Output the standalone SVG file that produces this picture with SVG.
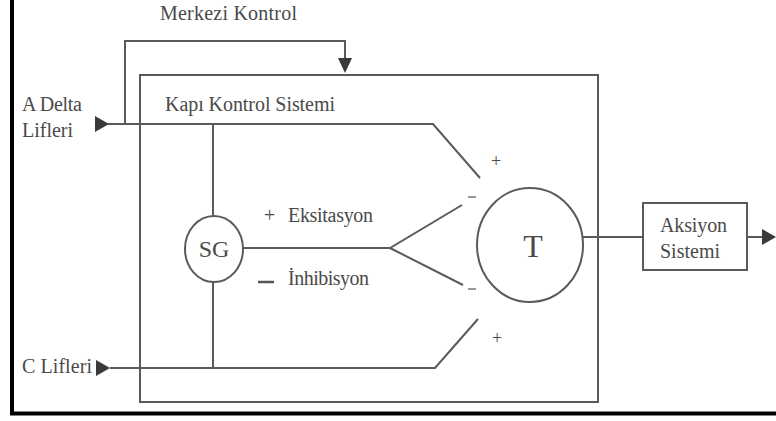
<svg xmlns="http://www.w3.org/2000/svg" width="776" height="421" viewBox="0 0 776 421">
<defs>
<style>
.ln{stroke:#5a5a5a;stroke-width:2;fill:none}
.tx{font-family:"Liberation Serif","Times New Roman",serif;font-size:20px;fill:#4a4a4a}
.ar{fill:#3a3a3a}
</style>
</defs>
<rect x="0" y="0" width="776" height="421" fill="#fff"/>
<g id="frame">
<line x1="12" y1="0" x2="12" y2="415" stroke="#000" stroke-width="4"/>
<line x1="10" y1="413.5" x2="776" y2="413.5" stroke="#000" stroke-width="4"/>
</g>
<g id="connectors">
<path class="ln" d="M108 124 H433 L480 178"/>
<path class="ln" d="M125 124 V41 H345 V60"/>
<polygon class="ar" points="338,58 352,58 345,73"/>
<polygon class="ar" points="95,116 95,132 109,124"/>
<path class="ln" d="M110 368 H435 L478 319"/>
<polygon class="ar" points="96,360 96,376 110,368"/>
<line class="ln" x1="213" y1="124" x2="213" y2="216"/>
<line class="ln" x1="213" y1="282" x2="213" y2="368"/>
<path class="ln" d="M243 248 H390 L462 205 M390 248 L463 285"/>
<line class="ln" x1="583" y1="237" x2="643" y2="237"/>
<line class="ln" x1="747" y1="237" x2="764" y2="237"/>
<polygon class="ar" points="762,229 762,245 776,237"/>
</g>
<g id="gate">
<rect class="ln" x="140" y="75" width="458" height="327"/>
<text class="tx" x="165" y="111" textLength="170">Kapı Kontrol Sistemi</text>
</g>
<g id="merkezi">
<text class="tx" x="160" y="20" textLength="137">Merkezi Kontrol</text>
</g>
<g id="adelta">
<text class="tx" x="22" y="111" textLength="60">A Delta</text>
<text class="tx" x="22" y="137">Lifleri</text>
</g>
<g id="clifleri">
<text class="tx" x="22" y="373" textLength="70">C Lifleri</text>
</g>
<g id="sg">
<ellipse class="ln" cx="214" cy="249" rx="29" ry="33"/>
<text class="tx" x="214" y="257" text-anchor="middle" style="font-size:24px">SG</text>
</g>
<g id="labels">
<text class="tx" x="264" y="222">+</text>
<text class="tx" x="288" y="222" textLength="85">Eksitasyon</text>
<line x1="258" y1="282" x2="274" y2="282" stroke="#555" stroke-width="2.5"/>
<text class="tx" x="288" y="285" textLength="81">İnhibisyon</text>
<text class="tx" x="491" y="167" style="font-size:18px">+</text>
<line x1="468" y1="197" x2="476" y2="197" stroke="#777" stroke-width="1.5"/>
<line x1="468" y1="289" x2="476" y2="289" stroke="#777" stroke-width="1.5"/>
<text class="tx" x="492" y="344" style="font-size:18px">+</text>
</g>
<g id="t">
<ellipse class="ln" cx="530" cy="245" rx="53" ry="57"/>
<text class="tx" x="533" y="257" text-anchor="middle" style="font-size:32px">T</text>
</g>
<g id="aksiyon">
<rect class="ln" x="643" y="203" width="104" height="67"/>
<text class="tx" x="660" y="232" textLength="67">Aksiyon</text>
<text class="tx" x="660" y="258">Sistemi</text>
</g>
</svg>
